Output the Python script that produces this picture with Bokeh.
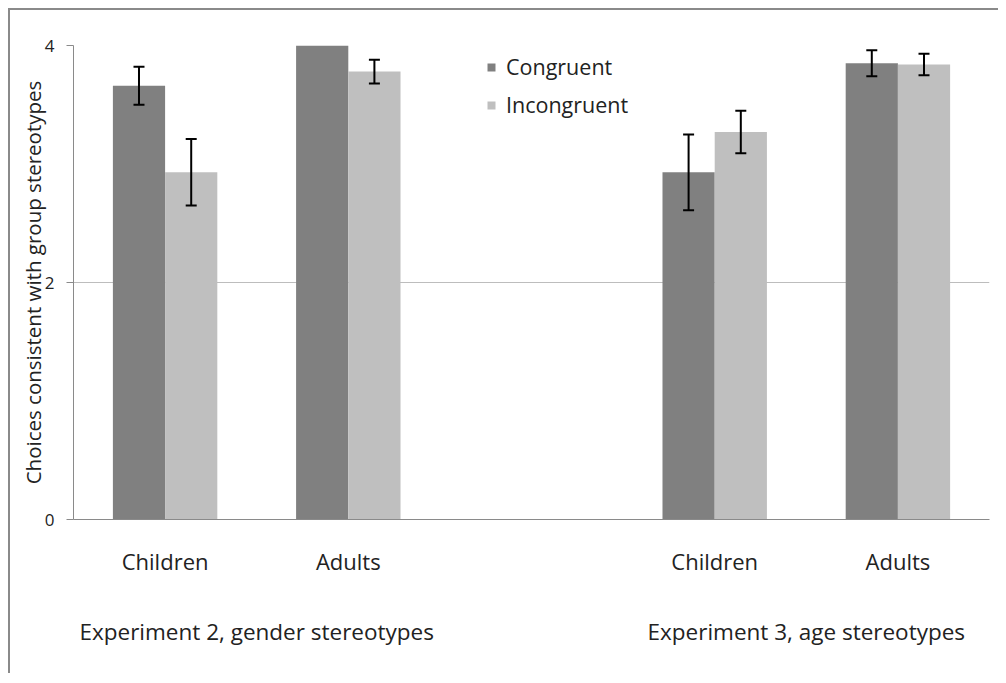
from bokeh.plotting import figure
from bokeh.models import (ColumnDataSource, Range1d, FixedTicker, LinearAxis,
                          Whisker, TeeHead, Legend, LegendItem)
from bokeh.embed import file_html
from bokeh.resources import INLINE

# ---------------- data ----------------
experiments = ["Experiment 2, gender stereotypes", "Experiment 3, age stereotypes"]
ages = ["Children", "Adults"]
series = ["Congruent", "Incongruent"]
congruent = [3.66, 4.00, 2.93, 3.85]
incongruent = [2.93, 3.78, 3.27, 3.84]
congruent_se = [0.16, 0.00, 0.32, 0.11]
incongruent_se = [0.28, 0.10, 0.18, 0.09]
y_ticks = [0, 2, 4]
y_label = "Choices consistent with group stereotypes"

# ---------------- layout helpers ----------------
FONT = "Open Sans"
n_age = len(ages)
n_slots = len(experiments) * (n_age + 1) - 1
slots = [g * (n_age + 1) + a for g in range(len(experiments)) for a in range(n_age)]
centers = [s + 0.5 for s in slots]
group_centers = [g * (n_age + 1) + n_age / 2 for g in range(len(experiments))]
cat_labels = [ages[a] for g in range(len(experiments)) for a in range(n_age)]
bar_w = 0.285
off = bar_w / 2

p = figure(width=990, height=665,
           x_range=Range1d(0, n_slots), y_range=Range1d(0, max(y_ticks)),
           output_backend="svg", toolbar_location=None,
           min_border_left=63, min_border_right=11,
           min_border_top=35, min_border_bottom=156)
p.styles = {"border-left": "2px solid #8a8a8a", "border-top": "2px solid #8a8a8a",
            "margin-left": "8px", "margin-top": "8px"}
p.outline_line_color = None
p.background_fill_color = "white"
p.border_fill_color = "white"
p.xgrid.visible = False
p.ygrid.grid_line_color = "#bdbdbd"
p.ygrid.grid_line_width = 1

# y axis
ya = p.yaxis[0]
ya.ticker = FixedTicker(ticks=y_ticks)
ya.minor_tick_line_color = None
ya.major_tick_in = 0
ya.major_tick_out = 7
ya.major_tick_line_color = "#8a8a8a"
ya.axis_line_color = "#8a8a8a"
ya.major_label_text_font = FONT
ya.major_label_text_font_size = "17px"
ya.major_label_text_color = "#222222"
ya.major_label_standoff = 12
ya.axis_label = y_label
ya.axis_label_text_font = FONT
ya.axis_label_text_font_size = "20.5px"
ya.axis_label_text_font_style = "normal"
ya.axis_label_text_color = "#222222"
ya.axis_label_standoff = -5

# x axis (category labels)
xa = p.xaxis[0]
xa.ticker = FixedTicker(ticks=centers)
xa.major_label_overrides = {c: lab for c, lab in zip(centers, cat_labels)}
xa.major_tick_line_color = None
xa.minor_tick_line_color = None
xa.axis_line_color = "#8a8a8a"
xa.major_label_text_font = FONT
xa.major_label_text_font_size = "22px"
xa.major_label_text_color = "#222222"
xa.major_label_standoff = 20

# second axis (experiment labels)
xa2 = LinearAxis(ticker=FixedTicker(ticks=group_centers),
                 major_label_overrides={c: lab for c, lab in zip(group_centers, experiments)})
xa2.axis_line_color = None
xa2.major_tick_line_color = None
xa2.minor_tick_line_color = None
xa2.major_label_text_font = FONT
xa2.major_label_text_font_size = "22.5px"
xa2.major_label_text_color = "#222222"
xa2.major_label_standoff = 31
p.add_layout(xa2, "below")

# bars
colors = ["#808080", "#bfbfbf"]
vals = [congruent, incongruent]
ses = [congruent_se, incongruent_se]
shifts = [-off, off]
renderers = []
for k in range(len(series)):
    xs = [c + shifts[k] for c in centers]
    src = ColumnDataSource(dict(x=xs, top=vals[k]))
    r = p.vbar(x="x", top="top", width=bar_w, source=src,
               fill_color=colors[k], line_color=None)
    renderers.append(r)
    keep = [i for i in range(len(xs)) if ses[k][i] > 0]
    wsrc = ColumnDataSource(dict(
        x=[xs[i] for i in keep],
        upper=[vals[k][i] + ses[k][i] for i in keep],
        lower=[vals[k][i] - ses[k][i] for i in keep]))
    w = Whisker(source=wsrc, base="x", upper="upper", lower="lower",
                level="overlay", line_color="black", line_width=2,
                upper_head=TeeHead(size=11, line_width=2, line_color="black"),
                lower_head=TeeHead(size=11, line_width=2, line_color="black"))
    p.add_layout(w)

legend = Legend(items=[LegendItem(label=series[k], renderers=[renderers[k]]) for k in range(len(series))],
                location=(413, 400), orientation="vertical",
                border_line_color=None, background_fill_alpha=0,
                padding=0, margin=0, glyph_width=10, glyph_height=10,
                label_text_font=FONT, label_text_font_size="21.5px",
                label_text_color="#222222", spacing=9, label_standoff=10)
p.add_layout(legend, "center")

open("out.html", "w").write(file_html(p, INLINE))
